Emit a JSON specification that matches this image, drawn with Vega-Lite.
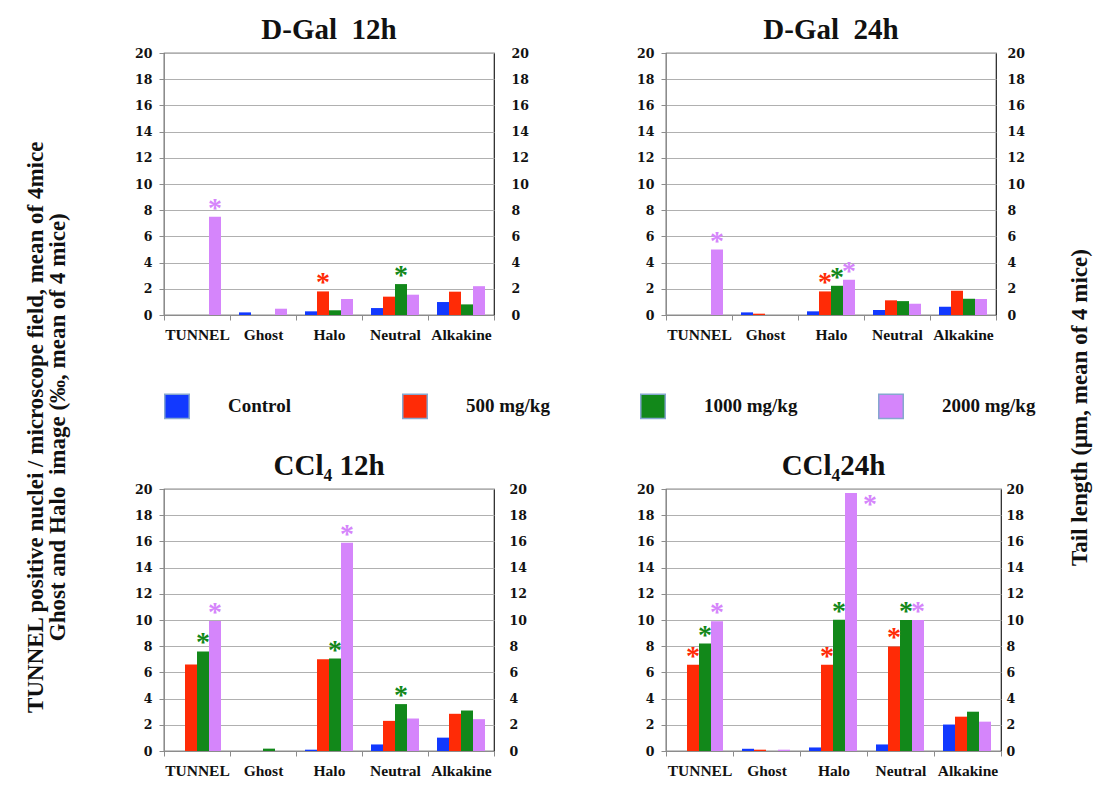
{
  "$schema": "https://vega.github.io/schema/vega-lite/v6.json",
  "background": "white",
  "padding": {"left": 25, "top": 15, "right": 5, "bottom": 5},
  "title": {
    "text": ["TUNNEL positive nuclei / microscope field, mean of 4mice", "Ghost and Halo\u00a0 image (‰, mean of 4 mice)"],
    "orient": "left", "anchor": "middle", "fontSize": 23, "lineHeight": 22, "offset": 64, "dx": -30
  },
  "datasets": {
    "d": [
      {"p":"D-Gal 12h","c":"TUNNEL","s":"Control","v":0,"star":0},
      {"p":"D-Gal 12h","c":"TUNNEL","s":"500 mg/kg","v":0,"star":0},
      {"p":"D-Gal 12h","c":"TUNNEL","s":"1000 mg/kg","v":0,"star":0},
      {"p":"D-Gal 12h","c":"TUNNEL","s":"2000 mg/kg","v":7.5,"star":1},
      {"p":"D-Gal 12h","c":"Ghost","s":"Control","v":0.2,"star":0},
      {"p":"D-Gal 12h","c":"Ghost","s":"500 mg/kg","v":0,"star":0},
      {"p":"D-Gal 12h","c":"Ghost","s":"1000 mg/kg","v":0,"star":0},
      {"p":"D-Gal 12h","c":"Ghost","s":"2000 mg/kg","v":0.48,"star":0},
      {"p":"D-Gal 12h","c":"Halo","s":"Control","v":0.28,"star":0},
      {"p":"D-Gal 12h","c":"Halo","s":"500 mg/kg","v":1.8,"star":1},
      {"p":"D-Gal 12h","c":"Halo","s":"1000 mg/kg","v":0.36,"star":0},
      {"p":"D-Gal 12h","c":"Halo","s":"2000 mg/kg","v":1.22,"star":0},
      {"p":"D-Gal 12h","c":"Neutral","s":"Control","v":0.53,"star":0},
      {"p":"D-Gal 12h","c":"Neutral","s":"500 mg/kg","v":1.4,"star":0},
      {"p":"D-Gal 12h","c":"Neutral","s":"1000 mg/kg","v":2.36,"star":1},
      {"p":"D-Gal 12h","c":"Neutral","s":"2000 mg/kg","v":1.55,"star":0},
      {"p":"D-Gal 12h","c":"Alkakine","s":"Control","v":0.99,"star":0},
      {"p":"D-Gal 12h","c":"Alkakine","s":"500 mg/kg","v":1.78,"star":0},
      {"p":"D-Gal 12h","c":"Alkakine","s":"1000 mg/kg","v":0.81,"star":0},
      {"p":"D-Gal 12h","c":"Alkakine","s":"2000 mg/kg","v":2.2,"star":0},

      {"p":"D-Gal 24h","c":"TUNNEL","s":"Control","v":0,"star":0},
      {"p":"D-Gal 24h","c":"TUNNEL","s":"500 mg/kg","v":0,"star":0},
      {"p":"D-Gal 24h","c":"TUNNEL","s":"1000 mg/kg","v":0,"star":0},
      {"p":"D-Gal 24h","c":"TUNNEL","s":"2000 mg/kg","v":5.0,"star":1},
      {"p":"D-Gal 24h","c":"Ghost","s":"Control","v":0.2,"star":0},
      {"p":"D-Gal 24h","c":"Ghost","s":"500 mg/kg","v":0.1,"star":0},
      {"p":"D-Gal 24h","c":"Ghost","s":"1000 mg/kg","v":0,"star":0},
      {"p":"D-Gal 24h","c":"Ghost","s":"2000 mg/kg","v":0,"star":0},
      {"p":"D-Gal 24h","c":"Halo","s":"Control","v":0.28,"star":0},
      {"p":"D-Gal 24h","c":"Halo","s":"500 mg/kg","v":1.8,"star":1},
      {"p":"D-Gal 24h","c":"Halo","s":"1000 mg/kg","v":2.23,"star":1},
      {"p":"D-Gal 24h","c":"Halo","s":"2000 mg/kg","v":2.69,"star":1},
      {"p":"D-Gal 24h","c":"Neutral","s":"Control","v":0.38,"star":0},
      {"p":"D-Gal 24h","c":"Neutral","s":"500 mg/kg","v":1.12,"star":0},
      {"p":"D-Gal 24h","c":"Neutral","s":"1000 mg/kg","v":1.06,"star":0},
      {"p":"D-Gal 24h","c":"Neutral","s":"2000 mg/kg","v":0.86,"star":0},
      {"p":"D-Gal 24h","c":"Alkakine","s":"Control","v":0.63,"star":0},
      {"p":"D-Gal 24h","c":"Alkakine","s":"500 mg/kg","v":1.85,"star":0},
      {"p":"D-Gal 24h","c":"Alkakine","s":"1000 mg/kg","v":1.24,"star":0},
      {"p":"D-Gal 24h","c":"Alkakine","s":"2000 mg/kg","v":1.22,"star":0},

      {"p":"CCl4 12h","c":"TUNNEL","s":"Control","v":0,"star":0},
      {"p":"CCl4 12h","c":"TUNNEL","s":"500 mg/kg","v":6.6,"star":0},
      {"p":"CCl4 12h","c":"TUNNEL","s":"1000 mg/kg","v":7.6,"star":1},
      {"p":"CCl4 12h","c":"TUNNEL","s":"2000 mg/kg","v":9.92,"star":1},
      {"p":"CCl4 12h","c":"Ghost","s":"Control","v":0,"star":0},
      {"p":"CCl4 12h","c":"Ghost","s":"500 mg/kg","v":0,"star":0},
      {"p":"CCl4 12h","c":"Ghost","s":"1000 mg/kg","v":0.18,"star":0},
      {"p":"CCl4 12h","c":"Ghost","s":"2000 mg/kg","v":0,"star":0},
      {"p":"CCl4 12h","c":"Halo","s":"Control","v":0.1,"star":0},
      {"p":"CCl4 12h","c":"Halo","s":"500 mg/kg","v":7.0,"star":0},
      {"p":"CCl4 12h","c":"Halo","s":"1000 mg/kg","v":7.06,"star":1},
      {"p":"CCl4 12h","c":"Halo","s":"2000 mg/kg","v":15.9,"star":1},
      {"p":"CCl4 12h","c":"Neutral","s":"Control","v":0.5,"star":0},
      {"p":"CCl4 12h","c":"Neutral","s":"500 mg/kg","v":2.3,"star":0},
      {"p":"CCl4 12h","c":"Neutral","s":"1000 mg/kg","v":3.58,"star":1},
      {"p":"CCl4 12h","c":"Neutral","s":"2000 mg/kg","v":2.48,"star":0},
      {"p":"CCl4 12h","c":"Alkakine","s":"Control","v":1.02,"star":0},
      {"p":"CCl4 12h","c":"Alkakine","s":"500 mg/kg","v":2.84,"star":0},
      {"p":"CCl4 12h","c":"Alkakine","s":"1000 mg/kg","v":3.09,"star":0},
      {"p":"CCl4 12h","c":"Alkakine","s":"2000 mg/kg","v":2.43,"star":0},

      {"p":"CCl4 24h","c":"TUNNEL","s":"Control","v":0,"star":0},
      {"p":"CCl4 24h","c":"TUNNEL","s":"500 mg/kg","v":6.59,"star":1},
      {"p":"CCl4 24h","c":"TUNNEL","s":"1000 mg/kg","v":8.2,"star":1},
      {"p":"CCl4 24h","c":"TUNNEL","s":"2000 mg/kg","v":9.9,"star":1},
      {"p":"CCl4 24h","c":"Ghost","s":"Control","v":0.17,"star":0},
      {"p":"CCl4 24h","c":"Ghost","s":"500 mg/kg","v":0.1,"star":0},
      {"p":"CCl4 24h","c":"Ghost","s":"1000 mg/kg","v":0,"star":0},
      {"p":"CCl4 24h","c":"Ghost","s":"2000 mg/kg","v":0.1,"star":0},
      {"p":"CCl4 24h","c":"Halo","s":"Control","v":0.27,"star":0},
      {"p":"CCl4 24h","c":"Halo","s":"500 mg/kg","v":6.59,"star":1},
      {"p":"CCl4 24h","c":"Halo","s":"1000 mg/kg","v":10.02,"star":1},
      {"p":"CCl4 24h","c":"Halo","s":"2000 mg/kg","v":19.7,"star":1},
      {"p":"CCl4 24h","c":"Neutral","s":"Control","v":0.5,"star":0},
      {"p":"CCl4 24h","c":"Neutral","s":"500 mg/kg","v":7.98,"star":1},
      {"p":"CCl4 24h","c":"Neutral","s":"1000 mg/kg","v":10.0,"star":1},
      {"p":"CCl4 24h","c":"Neutral","s":"2000 mg/kg","v":10.0,"star":1},
      {"p":"CCl4 24h","c":"Alkakine","s":"Control","v":2.02,"star":0},
      {"p":"CCl4 24h","c":"Alkakine","s":"500 mg/kg","v":2.62,"star":0},
      {"p":"CCl4 24h","c":"Alkakine","s":"1000 mg/kg","v":3.0,"star":0},
      {"p":"CCl4 24h","c":"Alkakine","s":"2000 mg/kg","v":2.24,"star":0}
    ]
  },
  "data": {"name": "d"},
  "columns": 2,
  "spacing": {"row": 174, "column": 172},
  "bounds": "flush",
  "concat": [
    {
      "width": 330, "height": 262,
      "title": {"text": "D-Gal\u00a0 12h", "fontSize": 29, "frame": "group", "offset": 2},
      "transform": [{"filter": "datum.p === 'D-Gal 12h'"}],
      "encoding": {
        "x": {"field": "c", "type": "nominal", "sort": ["TUNNEL","Ghost","Halo","Neutral","Alkakine"], "scale": {"paddingInner": 0, "paddingOuter": 0}, "axis": {"title": null}},
        "xOffset": {"field": "s", "type": "nominal", "sort": ["Control","500 mg/kg","1000 mg/kg","2000 mg/kg"], "scale": {"paddingInner": 0, "paddingOuter": 0.75}},
        "color": {"field": "s", "type": "nominal", "scale": {"domain": ["Control","500 mg/kg","1000 mg/kg","2000 mg/kg"], "range": ["#1239ff","#ff2b06","#12881a","#d585fb"]},
          "legend": {"title": null, "orient": "none", "legendX": 0, "legendY": 340, "direction": "horizontal", "gridAlign": "all", "columnPadding": 77}}
      },
      "layer": [
        {"mark": {"type": "bar"},
         "encoding": {"y": {"field": "v", "type": "quantitative", "scale": {"domain": [0, 20], "nice": false}, "axis": {"title": null, "values": [0,2,4,6,8,10,12,14,16,18,20], "grid": true}}}},
        {"transform": [{"filter": "datum.star == 1 && datum.v < 19"}],
         "mark": {"type": "text", "text": "*", "font": "Liberation Serif", "fontSize": 28, "fontWeight": "bold", "align": "center", "baseline": "alphabetic", "dy": 0},
         "encoding": {"y": {"field": "v", "type": "quantitative", "scale": {"domain": [0, 20], "nice": false}, "axis": {"orient": "right", "title": null, "values": [0,2,4,6,8,10,12,14,16,18,20], "grid": false, "domain": false, "ticks": false, "labelPadding": 17}}}}
      ],
      "resolve": {"scale": {"y": "independent"}}
    },
    {
      "width": 330, "height": 262,
      "title": {"text": "D-Gal\u00a0 24h", "fontSize": 29, "frame": "group", "offset": 2},
      "transform": [{"filter": "datum.p === 'D-Gal 24h'"}],
      "encoding": {
        "x": {"field": "c", "type": "nominal", "sort": ["TUNNEL","Ghost","Halo","Neutral","Alkakine"], "scale": {"paddingInner": 0, "paddingOuter": 0}, "axis": {"title": null}},
        "xOffset": {"field": "s", "type": "nominal", "sort": ["Control","500 mg/kg","1000 mg/kg","2000 mg/kg"], "scale": {"paddingInner": 0, "paddingOuter": 0.75}},
        "color": {"field": "s", "type": "nominal", "scale": {"domain": ["Control","500 mg/kg","1000 mg/kg","2000 mg/kg"], "range": ["#1239ff","#ff2b06","#12881a","#d585fb"]},
          "legend": {"title": null, "orient": "none", "legendX": 0, "legendY": 340, "direction": "horizontal", "gridAlign": "all", "columnPadding": 77}}
      },
      "layer": [
        {"mark": {"type": "bar"},
         "encoding": {"y": {"field": "v", "type": "quantitative", "scale": {"domain": [0, 20], "nice": false}, "axis": {"title": null, "values": [0,2,4,6,8,10,12,14,16,18,20], "grid": true}}}},
        {"transform": [{"filter": "datum.star == 1 && datum.v < 19"}],
         "mark": {"type": "text", "text": "*", "font": "Liberation Serif", "fontSize": 28, "fontWeight": "bold", "align": "center", "baseline": "alphabetic", "dy": 0},
         "encoding": {"y": {"field": "v", "type": "quantitative", "scale": {"domain": [0, 20], "nice": false}, "axis": {"orient": "right", "values": [0,2,4,6,8,10,12,14,16,18,20], "grid": false, "domain": false, "ticks": false, "labelPadding": 11,
           "title": "Tail length (μm, mean of 4 mice)", "titleX": 83, "titleY": 354, "titleAngle": 270, "titleAlign": "center", "titleBaseline": "middle", "titleFont": "Liberation Serif", "titleFontSize": 23, "titleFontWeight": "bold", "titleColor": "#111111"}}}}
      ],
      "resolve": {"scale": {"y": "independent"}}
    },
    {
      "width": 330, "height": 262,
      "title": {"text": "CCl₄ 12h", "fontSize": 29, "frame": "group", "offset": 2},
      "transform": [{"filter": "datum.p === 'CCl4 12h'"}],
      "encoding": {
        "x": {"field": "c", "type": "nominal", "sort": ["TUNNEL","Ghost","Halo","Neutral","Alkakine"], "scale": {"paddingInner": 0, "paddingOuter": 0}, "axis": {"title": null}},
        "xOffset": {"field": "s", "type": "nominal", "sort": ["Control","500 mg/kg","1000 mg/kg","2000 mg/kg"], "scale": {"paddingInner": 0, "paddingOuter": 0.75}},
        "color": {"field": "s", "type": "nominal", "scale": {"domain": ["Control","500 mg/kg","1000 mg/kg","2000 mg/kg"], "range": ["#1239ff","#ff2b06","#12881a","#d585fb"]},
          "legend": {"title": null, "orient": "none", "legendX": 0, "legendY": 340, "direction": "horizontal", "gridAlign": "all", "columnPadding": 77}}
      },
      "layer": [
        {"mark": {"type": "bar"},
         "encoding": {"y": {"field": "v", "type": "quantitative", "scale": {"domain": [0, 20], "nice": false}, "axis": {"title": null, "values": [0,2,4,6,8,10,12,14,16,18,20], "grid": true}}}},
        {"transform": [{"filter": "datum.star == 1 && datum.v < 19"}],
         "mark": {"type": "text", "text": "*", "font": "Liberation Serif", "fontSize": 28, "fontWeight": "bold", "align": "center", "baseline": "alphabetic", "dy": 0},
         "encoding": {"y": {"field": "v", "type": "quantitative", "scale": {"domain": [0, 20], "nice": false}, "axis": {"orient": "right", "title": null, "values": [0,2,4,6,8,10,12,14,16,18,20], "grid": false, "domain": false, "ticks": false, "labelPadding": 15}}}}
      ],
      "resolve": {"scale": {"y": "independent"}}
    },
    {
      "width": 335, "height": 262,
      "title": {"text": "CCl₄24h", "fontSize": 29, "frame": "group", "offset": 2},
      "transform": [{"filter": "datum.p === 'CCl4 24h'"}],
      "encoding": {
        "x": {"field": "c", "type": "nominal", "sort": ["TUNNEL","Ghost","Halo","Neutral","Alkakine"], "scale": {"paddingInner": 0, "paddingOuter": 0}, "axis": {"title": null}},
        "xOffset": {"field": "s", "type": "nominal", "sort": ["Control","500 mg/kg","1000 mg/kg","2000 mg/kg"], "scale": {"paddingInner": 0, "paddingOuter": 0.75}},
        "color": {"field": "s", "type": "nominal", "scale": {"domain": ["Control","500 mg/kg","1000 mg/kg","2000 mg/kg"], "range": ["#1239ff","#ff2b06","#12881a","#d585fb"]},
          "legend": {"title": null, "orient": "none", "legendX": 0, "legendY": 340, "direction": "horizontal", "gridAlign": "all", "columnPadding": 77}}
      },
      "layer": [
        {"mark": {"type": "bar"},
         "encoding": {"y": {"field": "v", "type": "quantitative", "scale": {"domain": [0, 20], "nice": false}, "axis": {"title": null, "values": [0,2,4,6,8,10,12,14,16,18,20], "grid": true}}}},
        {"transform": [{"filter": "datum.star == 1 && datum.v < 19"}],
         "mark": {"type": "text", "text": "*", "font": "Liberation Serif", "fontSize": 28, "fontWeight": "bold", "align": "center", "baseline": "alphabetic", "dy": 0},
         "encoding": {"y": {"field": "v", "type": "quantitative", "scale": {"domain": [0, 20], "nice": false}, "axis": {"orient": "right", "title": null, "values": [0,2,4,6,8,10,12,14,16,18,20], "grid": false, "domain": false, "ticks": false, "labelPadding": 5}}}},
        {"transform": [{"filter": "datum.star == 1 && datum.v >= 19"}],
         "mark": {"type": "text", "text": "*", "font": "Liberation Serif", "fontSize": 28, "fontWeight": "bold", "align": "center", "baseline": "alphabetic", "dx": 19, "dy": 20},
         "encoding": {"y": {"field": "v", "type": "quantitative", "scale": {"domain": [0, 20], "nice": false}, "axis": null}}}
      ],
      "resolve": {"scale": {"y": "independent"}}
    }
  ],
  "config": {
    "view": {"stroke": "#1f1f1f", "strokeWidth": 1.2},
    "title": {"font": "Liberation Serif", "fontWeight": "bold", "color": "#111111"},
    "axis": {"labelColor": "#111111", "domainColor": "#8c8c8c", "tickColor": "#8c8c8c", "gridColor": "#b0b0b0", "labelFontWeight": "bold"},
    "axisX": {"labelFont": "Liberation Serif", "labelFontSize": 15.5, "labelAngle": 0, "tickBand": "extent", "tickSize": 5, "labelPadding": 7},
    "axisY": {"labelFont": "DejaVu Serif", "labelFontSize": 12.5, "tickSize": 5, "labelPadding": 7},
    "legend": {"symbolType": "square", "symbolSize": 600, "symbolStrokeColor": "#86a7cf", "symbolStrokeWidth": 1.5, "symbolOpacity": 1, "labelFont": "Liberation Serif", "labelFontSize": 19, "labelFontWeight": "bold", "labelColor": "#111111", "labelOffset": 38, "labelLimit": 250}
  }
}
